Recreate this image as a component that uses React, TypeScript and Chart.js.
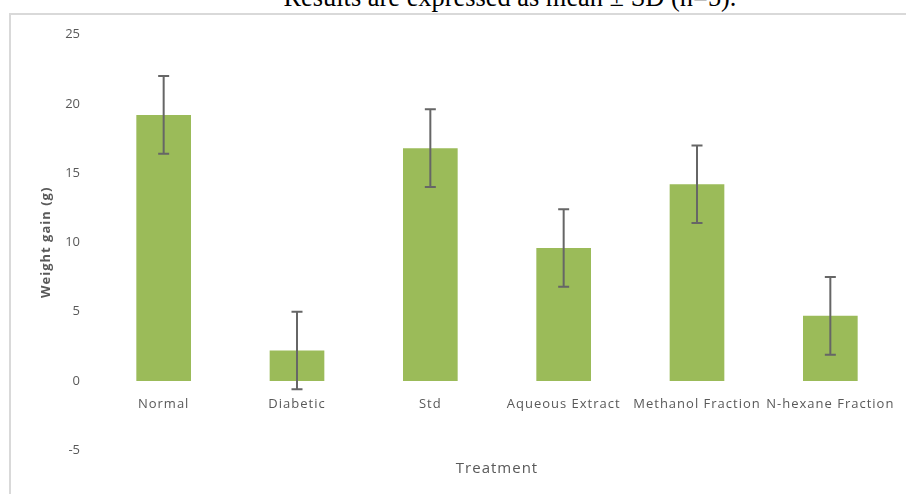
import { useEffect, useRef } from "react";
import { Chart, registerables, CategoryScale, LinearScale } from "chart.js";

Chart.register(...registerables);

// Weight gain per treatment group (mean and SD, grams)
const treatments = [
  "Normal",
  "Diabetic",
  "Std",
  "Aqueous Extract",
  "Methanol Fraction",
  "N-hexane Fraction",
];
const meanGain = [19.2, 2.2, 16.8, 9.6, 14.2, 4.7];
const sdGain = [2.8, 2.8, 2.8, 2.8, 2.8, 2.8];
const yTickValues = [-5, 0, 5, 10, 15, 20, 25];

const caption = "Results are expressed as mean \u00b1 SD (n=5).";
const xTitle = "Treatment";
const yTitle = "Weight gain (g)";

const TEXT_GREY = "#595959";
const BAR_GREEN = "#9bbb59";
const FONT = "'Open Sans', 'DejaVu Sans', sans-serif";

// Category axis whose labels are drawn with a little letter spacing
class SpacedCategoryScale extends CategoryScale {
  static id = "spacedCategory";
  drawLabels(area: any) {
    const ctx: any = this.ctx;
    ctx.save();
    ctx.letterSpacing = "1px";
    super.drawLabels(area);
    ctx.restore();
  }
}

// Linear axis whose title is drawn with a little letter spacing
class SpacedLinearScale extends LinearScale {
  static id = "spacedLinear";
  drawTitle() {
    const ctx: any = this.ctx;
    ctx.save();
    ctx.letterSpacing = "1px";
    super.drawTitle();
    ctx.restore();
  }
}

Chart.register(SpacedCategoryScale, SpacedLinearScale);

// Draws +/- SD whiskers with caps on each bar
const errorBarPlugin = {
  id: "errorBars",
  afterDatasetsDraw(chart: any) {
    const { ctx } = chart;
    const yScale = chart.scales.y;
    const meta = chart.getDatasetMeta(0);
    ctx.save();
    ctx.strokeStyle = "#666666";
    ctx.lineWidth = 2;
    meta.data.forEach((bar: any, i: number) => {
      const x = bar.x;
      const top = yScale.getPixelForValue(meanGain[i] + sdGain[i]);
      const bottom = yScale.getPixelForValue(meanGain[i] - sdGain[i]);
      const cap = 5.5;
      ctx.beginPath();
      ctx.moveTo(x, top);
      ctx.lineTo(x, bottom);
      ctx.moveTo(x - cap, top);
      ctx.lineTo(x + cap, top);
      ctx.moveTo(x - cap, bottom);
      ctx.lineTo(x + cap, bottom);
      ctx.stroke();
    });
    ctx.restore();
  },
};

// Category axis title below the plot
const xTitlePlugin = {
  id: "xAxisTitle",
  afterDraw(chart: any) {
    const { ctx, chartArea } = chart;
    ctx.save();
    (ctx as any).letterSpacing = "1px";
    ctx.font = `15px ${FONT}`;
    ctx.fillStyle = TEXT_GREY;
    ctx.textAlign = "center";
    ctx.textBaseline = "alphabetic";
    ctx.fillText(xTitle, (chartArea.left + chartArea.right) / 2, chartArea.bottom + 23);
    ctx.restore();
  },
};

export default function App() {
  const canvasRef = useRef<HTMLCanvasElement | null>(null);

  useEffect(() => {
    if (!canvasRef.current) return;
    const chart = new Chart(canvasRef.current, {
      type: "bar",
      data: {
        labels: treatments,
        datasets: [
          {
            data: meanGain,
            backgroundColor: BAR_GREEN,
            borderWidth: 0,
            barPercentage: 0.41,
            categoryPercentage: 1,
          },
        ],
      },
      options: {
        animation: false,
        responsive: false,
        devicePixelRatio: 1,
        layout: { padding: { left: 0, right: 9, top: 34.5, bottom: 43.7 } },
        plugins: {
          legend: { display: false },
          tooltip: { enabled: false },
          title: { display: false },
        },
        scales: {
          x: {
            type: "spacedCategory" as any,
            position: { y: 0 } as any,
            offset: true,
            grid: { display: false, drawTicks: false },
            border: { display: false },
            ticks: {
              autoSkip: false,
              maxRotation: 0,
              minRotation: 0,
              padding: 15.5,
              color: TEXT_GREY,
              font: { family: FONT, size: 13 },
            },
          },
          y: {
            type: "spacedLinear" as any,
            position: "left",
            min: -5,
            max: 25,
            grid: { display: false, drawTicks: false },
            border: { display: false },
            afterBuildTicks: (scale: any) => {
              scale.ticks = yTickValues.map((v) => ({ value: v }));
            },
            afterFit: (scale: any) => {
              scale.width = 97;
            },
            ticks: {
              padding: 17,
              color: TEXT_GREY,
              font: { family: FONT, size: 13 },
            },
            title: {
              display: true,
              text: yTitle,
              color: TEXT_GREY,
              padding: { top: 38, bottom: 0 },
              font: { family: FONT, size: 13, weight: "bold" },
            },
          },
        },
      },
      plugins: [errorBarPlugin, xTitlePlugin],
    });
    return () => chart.destroy();
  }, []);

  return (
    <div
      style={{
        position: "fixed",
        left: 0,
        top: 0,
        width: 906,
        height: 494,
        overflow: "hidden",
        background: "#ffffff",
      }}
    >
      <div
        style={{
          position: "absolute",
          left: 0,
          width: 1020,
          top: -18,
          textAlign: "center",
          fontFamily: "'Liberation Serif', 'Times New Roman', serif",
          fontSize: 26.4,
          lineHeight: "30px",
          color: "#000000",
          whiteSpace: "nowrap",
        }}
      >
        {caption}
      </div>
      <div
        style={{
          position: "absolute",
          left: 9,
          top: 13,
          width: 920,
          height: 520,
          border: "2px solid #d9d9d9",
          boxSizing: "border-box",
        }}
      />
      <canvas
        ref={canvasRef}
        width={906}
        height={494}
        style={{ position: "absolute", left: 0, top: 0, width: 906, height: 494 }}
      />
    </div>
  );
}
